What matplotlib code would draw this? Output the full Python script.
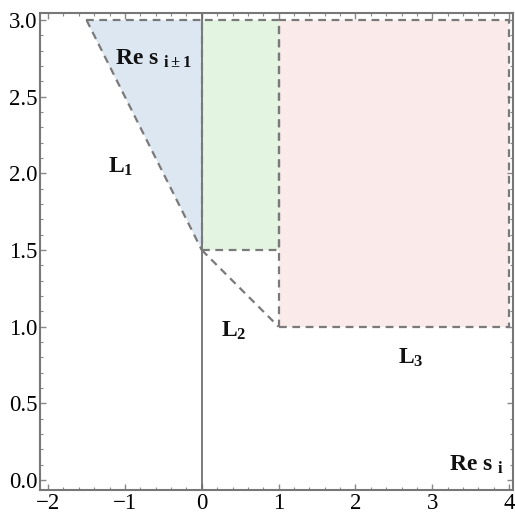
import matplotlib
matplotlib.use("Agg")
import matplotlib.pyplot as plt
from matplotlib.ticker import MultipleLocator

plt.rcParams['font.family'] = ['Liberation Serif', 'DejaVu Serif']
plt.rcParams['mathtext.fontset'] = 'custom'
plt.rcParams['mathtext.rm'] = 'Liberation Serif'
plt.rcParams['mathtext.it'] = 'Liberation Serif:italic'
plt.rcParams['mathtext.bf'] = 'Liberation Serif:bold'

# Region vertices (data)
tri_x = [-1.5, 0, 0]
tri_y = [3.0, 3.0, 1.5]
green_x = [0, 1, 1, 0]
green_y = [1.5, 1.5, 3.0, 3.0]
pink_x = [1, 4, 4, 1]
pink_y = [1.0, 1.0, 3.0, 3.0]
L1_x = [-1.5, 0]
L1_y = [3.0, 1.5]
L2_x = [0, 1]
L2_y = [1.5, 1.0]

xticks = [-2, -1, 0, 1, 2, 3, 4]
yticks = [0.0, 0.5, 1.0, 1.5, 2.0, 2.5, 3.0]

fig = plt.figure(figsize=(5.15, 5.13), dpi=100)
ax = fig.add_axes([40/515, 23/513, 473/515, 477/513])

ax.fill(tri_x, tri_y, color='#dce7f2', lw=0, zorder=1)
ax.fill(green_x, green_y, color='#e3f5e1', lw=0, zorder=1)
ax.fill(pink_x, pink_y, color='#fbeaea', lw=0, zorder=1)

dash = dict(color='#7a7a7a', lw=1.6, ls=(0, (3.5, 2.5)), zorder=3)
ax.plot(L1_x, L1_y, **dash)
ax.plot(L2_x, L2_y, **dash)
ax.plot([-1.5, 0], [3.0, 3.0], **dash)
ax.plot(green_x + [green_x[0]], green_y + [green_y[0]], **dash)
ax.plot(pink_x + [pink_x[0]], pink_y + [pink_y[0]], **dash)

ax.axvline(0, color='#666666', lw=1.2, zorder=2)

ax.set_xlim(-2.105, 4.05)
ax.set_ylim(-0.065, 3.046)
ax.set_xticks(xticks)
ax.set_yticks(yticks)
ax.set_xticklabels(['\u22122', '\u22121', '0', '1', '2', '3', '4'])
ax.set_yticklabels(['0.0', '0.5', '1.0', '1.5', '2.0', '2.5', '3.0'])
ax.xaxis.set_minor_locator(MultipleLocator(0.2))
ax.yaxis.set_minor_locator(MultipleLocator(0.1))
ax.tick_params(which='both', direction='in', top=True, right=True, color='#888888')
ax.tick_params(which='major', length=4, width=1, labelsize=16.5, pad=2)
ax.tick_params(which='minor', length=2.5, width=0.8)
for s in ax.spines.values():
    s.set_color('#777777')
    s.set_linewidth(1.5)

tk = dict(fontweight='bold', fontsize=17, color='#111111')
ax.text(-1.13, 2.75, r'Re s $_{\mathbf{i\pm1}}$', ha='left', va='center', **tk)
ax.text(-1.22, 2.04, r'L$_{\mathbf{1}}$', ha='left', va='center', **tk)
ax.text(0.25, 0.97, r'L$_{\mathbf{2}}$', ha='left', va='center', **tk)
ax.text(2.55, 0.8, r'L$_{\mathbf{3}}$', ha='left', va='center', **tk)
ax.text(3.22, 0.1, r'Re s $_{\mathbf{i}}$', ha='left', va='center', **tk)

fig.savefig('out.png', dpi=100)
